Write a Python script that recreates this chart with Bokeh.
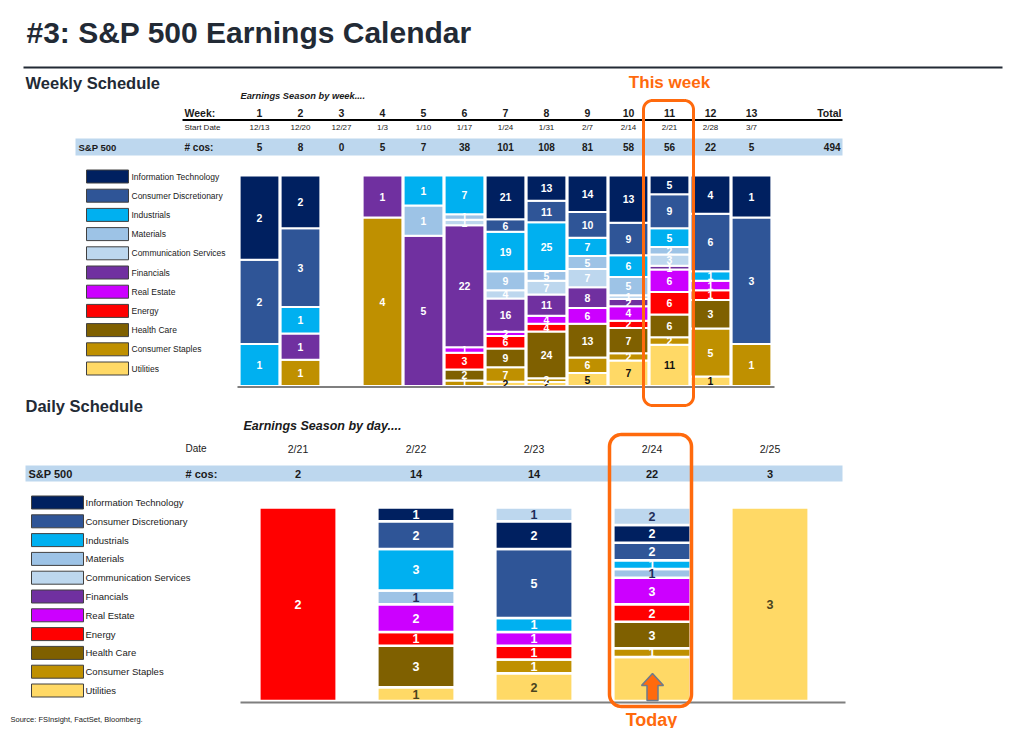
import numpy as np
from bokeh.plotting import figure
from bokeh.models import Range1d, ColumnDataSource, Label
from bokeh.core.properties import value
from bokeh.embed import file_html
from bokeh.resources import INLINE

# ---------------- data ----------------
sectors = ["Information Technology", "Consumer Discretionary", "Industrials", "Materials",
           "Communication Services", "Financials", "Real Estate", "Energy", "Health Care",
           "Consumer Staples", "Utilities"]
sector_colors = ["#002060", "#2F5597", "#00B0F0", "#9DC3E6", "#BDD7EE", "#7030A0",
                 "#CC00FF", "#FF0000", "#7F6000", "#BF9000", "#FFD966"]

weeks = [1, 2, 3, 4, 5, 6, 7, 8, 9, 10, 11, 12, 13]
week_start = ["12/13", "12/20", "12/27", "1/3", "1/10", "1/17", "1/24", "1/31", "2/7",
              "2/14", "2/21", "2/28", "3/7"]
wk_it    = [2, 2, 0, 0, 0, 0, 21, 13, 14, 13, 5, 4, 1]
wk_cd    = [2, 3, 0, 0, 0, 0, 6, 11, 10, 9, 9, 6, 3]
wk_ind   = [1, 1, 0, 0, 1, 7, 19, 25, 7, 6, 5, 1, 0]
wk_mat   = [0, 0, 0, 0, 1, 1, 9, 5, 5, 5, 2, 0, 0]
wk_comm  = [0, 0, 0, 0, 0, 1, 4, 7, 7, 1, 3, 0, 0]
wk_fin   = [0, 1, 0, 1, 5, 22, 16, 11, 8, 2, 1, 0, 0]
wk_re    = [0, 0, 0, 0, 0, 1, 2, 4, 6, 4, 6, 1, 0]
wk_en    = [0, 0, 0, 0, 0, 3, 6, 4, 0, 2, 6, 1, 0]
wk_hc    = [0, 0, 0, 0, 0, 2, 9, 24, 13, 7, 6, 3, 0]
wk_cs    = [0, 1, 0, 4, 0, 1, 7, 2, 6, 2, 2, 5, 1]
wk_util  = [0, 0, 0, 0, 0, 0, 2, 2, 5, 7, 11, 1, 0]

days = ["2/21", "2/22", "2/23", "2/24", "2/25"]
dy_it    = [0, 1, 2, 2, 0]
dy_cd    = [0, 2, 5, 2, 0]
dy_ind   = [0, 3, 1, 1, 0]
dy_mat   = [0, 1, 0, 1, 0]
dy_comm  = [0, 0, 1, 2, 0]
dy_fin   = [0, 0, 0, 0, 0]
dy_re    = [0, 2, 1, 3, 0]
dy_en    = [2, 1, 1, 2, 0]
dy_hc    = [0, 3, 0, 3, 0]
dy_cs    = [0, 0, 1, 1, 0]
dy_util  = [0, 1, 2, 5, 3]
today_index = 3

# ---------------- figure ----------------
W, H = 1016, 728
ORANGE = "#FF6A0D"
DARK = "#222A35"
SANS = "Liberation Sans"

p = figure(width=W, height=H, x_range=Range1d(0, W), y_range=Range1d(H, 0),
           output_backend="svg", toolbar_location=None, min_border=0,
           x_axis_location=None, y_axis_location=None)
p.grid.visible = False
p.outline_line_color = None
p.background_fill_color = "white"
p.border_fill_color = "white"


def lin_range(v0, r0, v1, r1, ra, rb):
    k = (v1 - v0) / (r1 - r0)
    return Range1d(start=v0 + (ra - r0) * k, end=v0 + (rb - r0) * k)


p.extra_x_ranges = {"wx": lin_range(1, 259, 13, 751, 0, W),
                    "dx": lin_range(0, 297.5, 4, 769.5, 0, W)}
p.extra_y_ranges = {"wy": lin_range(0, 385.5, 1, 175, H, 0),
                    "dy": lin_range(0, 700.5, 1, 507, H, 0)}


def label(x, y, text, size, bold=False, italic=False, color="#1a1a1a", align="left"):
    style = "bold italic" if (bold and italic) else ("bold" if bold else ("italic" if italic else "normal"))
    p.add_layout(Label(x=x, y=y, text=text, text_font=SANS, text_font_size=size,
                       text_font_style=style, text_color=color, text_align=align,
                       text_baseline="middle"))


def rounded_path(x0, x1, y0, y1, r):
    xs, ys = [], []
    corners = [(x1 - r, y0 + r, -90, 0), (x1 - r, y1 - r, 0, 90),
               (x0 + r, y1 - r, 90, 180), (x0 + r, y0 + r, 180, 270)]
    for cx, cy, a0, a1 in corners:
        t = np.radians(np.linspace(a0, a1, 12))
        xs += list(cx + r * np.cos(t))
        ys += list(cy + r * np.sin(t))
    xs.append(xs[0]); ys.append(ys[0])
    return xs, ys


def segments(series, order, xs, lab_colors, skip=None):
    vals = np.array(series, dtype=float)
    tot = vals.sum(axis=0)
    frac = np.divide(vals, tot, out=np.zeros_like(vals), where=tot > 0)
    cum = np.zeros(vals.shape[1])
    d = dict(x=[], bottom=[], top=[], color=[])
    lab = dict(x=[], mid=[], text=[], tcolor=[])
    for i in order:
        b = cum.copy()
        cum = cum + frac[i]
        for j in range(vals.shape[1]):
            if vals[i, j] > 0:
                d["x"].append(xs[j]); d["bottom"].append(b[j]); d["top"].append(cum[j])
                d["color"].append(sector_colors[i])
                if skip is not None and (i, j) == skip:
                    continue
                lab["x"].append(xs[j]); lab["mid"].append((b[j] + cum[j]) / 2)
                lab["text"].append(str(int(vals[i, j]))); lab["tcolor"].append(lab_colors[i])
    return ColumnDataSource(d), ColumnDataSource(lab), tot.astype(int)


# ---------------- title ----------------
label(26, 32, "#3: S&P 500 Earnings Calendar", "30px", bold=True, color=DARK)
p.line(x=[23, 1002], y=[67, 67], line_color=DARK, line_width=2)
label(25, 82, "Weekly Schedule", "16.5px", bold=True, color=DARK)
label(669, 82, "This week", "17px", bold=True, color=ORANGE, align="center")

# ---------------- weekly ----------------
wk_series = [wk_it, wk_cd, wk_ind, wk_mat, wk_comm, wk_fin, wk_re, wk_en, wk_hc, wk_cs, wk_util]
wk_lab_colors = ["white"] * 10 + ["#111111"]
wk_src, wk_lab, wk_tot = segments(wk_series, list(range(10, -1, -1)), weeks, wk_lab_colors)

label(240, 95, "Earnings Season by week....", "9.3px", bold=True, italic=True)
label(184, 112, "Week:", "10.5px", bold=True)
label(841, 112, "Total", "10.5px", bold=True, align="right")
p.text(x=weeks, y=[112] * len(weeks), text=[str(w) for w in weeks], x_range_name="wx",
       text_font=value(SANS), text_font_size="10.5px", text_font_style="bold",
       text_align="center", text_baseline="middle", text_color="#1a1a1a")
p.line(x=[182, 842], y=[119.5, 119.5], line_color="black", line_width=2)
label(184, 126.5, "Start Date", "8px")
p.text(x=weeks, y=[126.5] * len(weeks), text=week_start, x_range_name="wx",
       text_font=value(SANS), text_font_size="8px",
       text_align="center", text_baseline="middle", text_color="#1a1a1a")
p.quad(left=[75], right=[842], top=[138], bottom=[155], fill_color="#BDD7EE", line_color=None)
label(78, 146.5, "S&P 500", "9.5px", bold=True)
label(184, 146.5, "# cos:", "10px", bold=True)
p.text(x=weeks, y=[146.5] * len(weeks), text=[str(t) for t in wk_tot], x_range_name="wx",
       text_font=value(SANS), text_font_size="10px", text_font_style="bold",
       text_align="center", text_baseline="middle", text_color="#1a1a1a")
label(840, 146.5, str(int(wk_tot.sum())), "10px", bold=True, align="right")

# legend weekly
for i, (s, c) in enumerate(zip(sectors, sector_colors)):
    y = 176 + i * 19.2
    p.rect(x=[107], y=[y], width=42, height=13, fill_color=c, line_color="#404040", line_width=1)
    label(131, y, s, "8.5px", color="#1a1a1a")

p.vbar(x="x", bottom="bottom", top="top", width=0.97, source=wk_src, fill_color="color",
       line_color="white", line_width=2, x_range_name="wx", y_range_name="wy")
p.text(x="x", y="mid", text="text", source=wk_lab, x_range_name="wx", y_range_name="wy",
       text_font=value(SANS), text_font_size="10.5px", text_font_style="bold",
       text_align="center", text_baseline="middle", text_color="tcolor")
p.line(x=[237, 774], y=[386.5, 386.5], line_color="#7F7F7F", line_width=2)

bx, by = rounded_path(643, 693, 100, 405, 9)
p.line(x=bx, y=by, line_color=ORANGE, line_width=3)

# ---------------- daily ----------------
label(25, 405, "Daily Schedule", "16.5px", bold=True, color=DARK)
day_x = list(range(len(days)))
dy_series = [dy_it, dy_cd, dy_ind, dy_mat, dy_comm, dy_fin, dy_re, dy_en, dy_hc, dy_cs, dy_util]
dy_lab_colors = ["white", "white", "white", "#1F2D5A", "#1F2D5A", "white", "white", "white",
                 "white", "white", "#4A4420"]
dy_order = [10, 9, 8, 7, 6, 5, 3, 2, 1, 0, 4]
dy_src, dy_lab, dy_tot = segments(dy_series, dy_order, day_x, dy_lab_colors, skip=(10, today_index))

label(243, 425, "Earnings Season by day....", "12.5px", bold=True, italic=True)
label(185, 448, "Date", "10px")
p.text(x=day_x, y=[448] * len(days), text=days, x_range_name="dx",
       text_font=value(SANS), text_font_size="10.5px",
       text_align="center", text_baseline="middle", text_color="#1a1a1a")
p.quad(left=[25], right=[842], top=[465], bottom=[481], fill_color="#BDD7EE", line_color=None)
label(28, 473, "S&P 500", "11px", bold=True)
label(185, 473, "# cos:", "11px", bold=True)
p.text(x=day_x, y=[473] * len(days), text=[str(t) for t in dy_tot], x_range_name="dx",
       text_font=value(SANS), text_font_size="11px", text_font_style="bold",
       text_align="center", text_baseline="middle", text_color="#1a1a1a")

for i, (s, c) in enumerate(zip(sectors, sector_colors)):
    y = 502 + i * 18.8
    p.rect(x=[57], y=[y], width=52, height=13, fill_color=c, line_color="#404040", line_width=1)
    label(85, y, s, "9.5px", color="#1a1a1a")

p.vbar(x="x", bottom="bottom", top="top", width=0.655, source=dy_src, fill_color="color",
       line_color="white", line_width=2.5, x_range_name="dx", y_range_name="dy")
p.text(x="x", y="mid", text="text", source=dy_lab, x_range_name="dx", y_range_name="dy",
       text_font=value(SANS), text_font_size="12.5px", text_font_style="bold",
       text_align="center", text_baseline="middle", text_color="tcolor")
p.line(x=[240, 845], y=[702, 702], line_color="#7F7F7F", line_width=2)

bx, by = rounded_path(609, 691, 434, 706, 12)
p.line(x=bx, y=by, line_color=ORANGE, line_width=3.5)
p.patch(x=[652, 663, 657.5, 657.5, 646.5, 646.5, 641], y=[673, 685, 685, 700, 700, 685, 685],
        fill_color=ORANGE, line_color="#6D7B8D", line_width=1.5)
label(651, 719, "Today", "18px", bold=True, color=ORANGE, align="center")
label(10, 719, "Source: FSInsight, FactSet, Bloomberg.", "7.5px", color="#1a1a1a")

open("out.html", "w").write(file_html(p, INLINE))
